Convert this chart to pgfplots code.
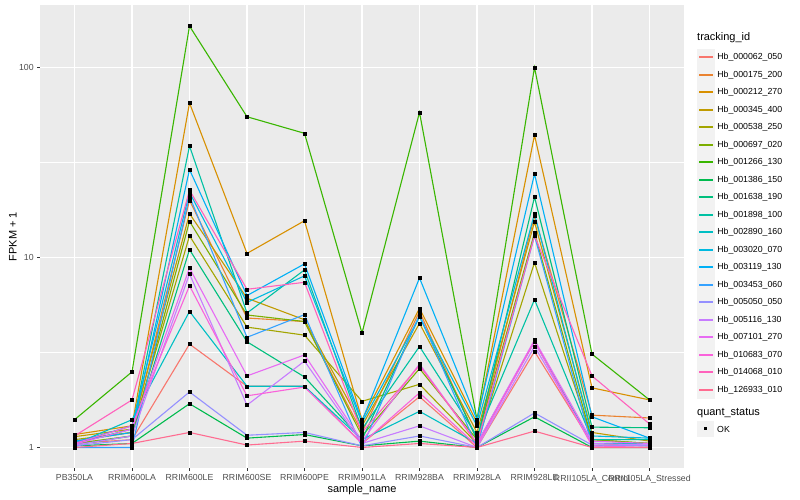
\documentclass[border=0pt]{standalone}
\usepackage{fontspec}
\setmainfont{Liberation Sans}
\usepackage{pgfplots}
\usepackage{pgfplotstable}
\pgfplotsset{compat=1.18}

% ggplot2 hue palette, 20 levels
\definecolor{c1}{HTML}{F8766D}
\definecolor{c2}{HTML}{EA8331}
\definecolor{c3}{HTML}{D89000}
\definecolor{c4}{HTML}{C09B00}
\definecolor{c5}{HTML}{A3A500}
\definecolor{c6}{HTML}{7CAE00}
\definecolor{c7}{HTML}{39B600}
\definecolor{c8}{HTML}{00BB4E}
\definecolor{c9}{HTML}{00BF7D}
\definecolor{c10}{HTML}{00C1A3}
\definecolor{c11}{HTML}{00BFC4}
\definecolor{c12}{HTML}{00BAE0}
\definecolor{c13}{HTML}{00B0F6}
\definecolor{c14}{HTML}{35A2FF}
\definecolor{c15}{HTML}{9590FF}
\definecolor{c16}{HTML}{C77CFF}
\definecolor{c17}{HTML}{E76BF3}
\definecolor{c18}{HTML}{FA62DB}
\definecolor{c19}{HTML}{FF62BC}
\definecolor{c20}{HTML}{FF6C91}
\definecolor{panelbg}{HTML}{EBEBEB}
\definecolor{keybg}{HTML}{F2F2F2}
\definecolor{grey30}{HTML}{4D4D4D}
\definecolor{grey20}{HTML}{333333}

% FPKM + 1 per sample (rows) and tracking_id (columns s1..s20)
\pgfplotstableread{
x  s1   s2   s3   s4   s5   s6   s7   s8   s9   s10  s11  s12  s13  s14  s15  s16  s17  s18  s19  s20
1  1.05 1.08 1.17 1.14 1.10 1.05 1.40 1.02 1.03 1.05 1.04 1.06 1.08 1.00 1.02 1.03 1.04 1.05 1.15 1.00
2  1.10 1.20 1.30 1.25 1.20 1.15 2.50 1.05 1.15 1.25 1.40 1.30 1.20 1.00 1.10 1.15 1.25 1.30 1.78 1.05
3  3.50 20.0 65.0 17.0 13.0 15.5 165  1.70 11.0 38.6 5.20 22.0 29.0 21.0 1.96 8.20 8.80 7.10 22.6 1.20
4  2.10 4.80 10.5 6.10 4.30 4.98 55.0 1.12 3.60 5.10 2.10 5.80 6.30 3.80 1.16 1.67 2.38 1.87 6.80 1.03
5  2.10 4.60 15.6 4.70 3.90 4.60 45.0 1.17 2.35 8.60 2.10 8.00 9.25 5.00 1.20 2.85 3.07 2.08 7.40 1.08
6  1.05 1.20 1.40 1.30 1.75 1.15 4.00 1.02 1.10 1.25 1.10 1.35 1.38 1.00 1.02 1.05 1.08 1.05 1.20 1.00
7  1.85 5.20 5.40 4.50 2.15 2.60 58.0 1.08 4.90 3.40 1.55 4.87 7.80 5.00 1.15 1.30 2.75 1.94 2.70 1.05
8  1.00 1.10 1.35 1.20 1.05 1.10 1.40 1.00 1.10 1.15 1.05 1.30 1.40 1.00 1.00 1.00 1.05 1.02 1.05 1.00
9  3.20 16.5 44.0 15.4 9.40 13.5 100  1.45 20.8 6.00 3.60 17.0 27.5 13.0 1.52 3.40 3.68 3.60 13.0 1.22
10 1.05 1.48 2.06 1.20 1.10 1.10 3.10 1.00 1.28 1.10 1.05 1.15 1.45 1.02 1.03 1.05 1.08 1.02 2.38 1.00
11 1.02 1.43 1.78 1.08 1.05 1.05 1.78 1.00 1.27 1.10 1.05 1.12 1.12 1.03 1.02 1.03 1.05 1.00 1.33 1.00
}\data

\begin{document}
\begin{tikzpicture}
\useasboundingbox (0,0) rectangle (800bp,500bp);
\begin{axis}[
    at={(40bp,32bp)}, anchor=south west,
    scale only axis, width=644bp, height=463bp,
    axis background/.style={fill=panelbg},
    axis line style={draw=none},
    ymode=log, log basis y=10,
    xmin=0.4, xmax=11.6, ymin=0.78, ymax=213,
    xtick={1,...,11},
    xticklabels={PB350LA,RRIM600LA,RRIM600LE,RRIM600SE,RRIM600PE,RRIM901LA,RRIM928BA,RRIM928LA,RRIM928LE,RRII105LA\_Control,RRII105LA\_Stressed},
    ytick={1,10,100}, yticklabels={1,10,100},
    minor ytick={3.1623,31.623},
    grid=both,
    major grid style={white, line width=1.07bp},
    minor grid style={white, line width=0.53bp},
    tick align=outside, major tick length=2.75bp, minor tick length=0pt,
    tick style={grey20, line width=0.53bp},
    xtick pos=bottom, ytick pos=left,
    ticklabel style={font=\fontsize{8.8}{10}\selectfont, text=grey30},
    xticklabel style={yshift=-0.5bp},
    xlabel={sample\_name}, ylabel={FPKM + 1},
    label style={font=\fontsize{11}{13}\selectfont},
    xlabel style={at={(rel axis cs:0.5,-0.046)}, anchor=center},
    ylabel style={at={(rel axis cs:-0.042,0.5)}, anchor=center},
    legend style={at={(rel axis cs:1.0202,0.9064)}, anchor=north west,
        draw=none, fill=none, inner sep=0pt, row sep=0pt, column sep=0pt,
        font=\fontsize{8.8}{10}\selectfont,
        nodes={inner xsep=2.5bp, inner ysep=0pt, minimum height=17.3bp}},
    legend cell align=left,
    legend image code/.code={
        \fill[keybg] (0bp,-8.2bp) rectangle (16.6bp,8.2bp);
        \draw[#1, line width=1.8bp] (1.7bp,0bp) -- (14.9bp,0bp);
    },
    legend entries={Hb\_000062\_050,Hb\_000175\_200,Hb\_000212\_270,Hb\_000345\_400,Hb\_000538\_250,Hb\_000697\_020,Hb\_001266\_130,Hb\_001386\_150,Hb\_001638\_190,Hb\_001898\_100,Hb\_002890\_160,Hb\_003020\_070,Hb\_003119\_130,Hb\_003453\_060,Hb\_005050\_050,Hb\_005116\_130,Hb\_007101\_270,Hb\_010683\_070,Hb\_014068\_010,Hb\_126933\_010},
]
\pgfplotsinvokeforeach{1,...,20}{
    \addplot[draw=c#1, line width=1.1bp, mark=none] table[x=x, y=s#1] {\data};
}
\pgfplotsinvokeforeach{1,...,20}{
    \addplot[forget plot, only marks, mark=square*, mark size=1.5bp, black] table[x=x, y=s#1] {\data};
}
\end{axis}
% legend titles and the quant_status key
\node[anchor=west, font=\fontsize{11}{13}\selectfont, inner sep=0pt] at (697bp,462bp) {tracking\_id};
\node[anchor=west, font=\fontsize{11}{13}\selectfont, inner sep=0pt] at (697bp,87bp) {quant\_status};
\fill[keybg] (697bp,62.6bp) rectangle (713.6bp,79bp);
\fill[black] (704bp,69.5bp) rectangle (707bp,72.5bp);
\node[anchor=west, font=\fontsize{8.8}{10}\selectfont, inner sep=0pt] at (717bp,71bp) {OK};
\end{tikzpicture}
\end{document}
